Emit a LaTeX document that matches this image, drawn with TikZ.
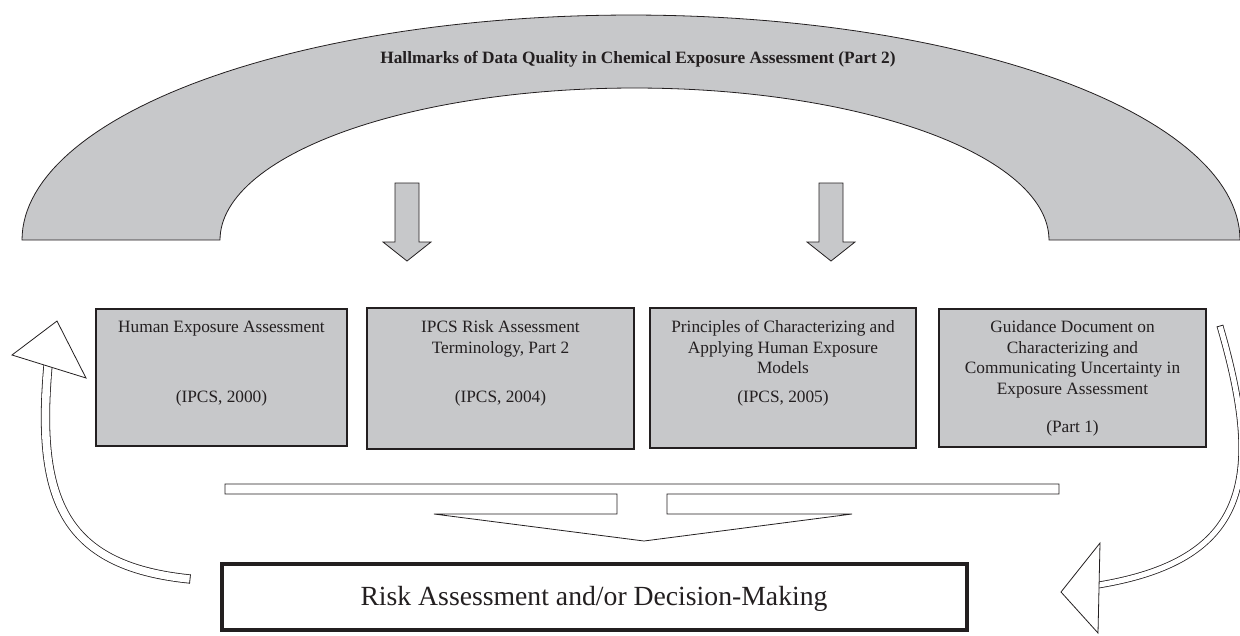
\documentclass[tikz,border=0pt]{standalone}
\usepackage{fontspec}
\setmainfont{Liberation Serif}
\usetikzlibrary{calc}
\definecolor{boxgray}{RGB}{199,200,202}
\definecolor{ink}{RGB}{35,31,32}
\begin{document}
\begin{tikzpicture}[x=1pt,y=-1pt,
  graybox/.style={draw=ink, line width=1.1pt, fill=boxgray, inner sep=0pt, outer sep=0pt},
  boxtxt/.style={anchor=base, inner sep=0pt, text=ink, font=\fontsize{17.3}{20.5}\selectfont},
  titletxt/.style={anchor=base, inner sep=0pt, text=ink, font=\fontsize{17.3}{21}\selectfont\bfseries},
  bigtxt/.style={anchor=base, inner sep=0pt, text=ink, font=\fontsize{27.7}{32}\selectfont},
  archshape/.style={draw=ink, line width=0.8pt, fill=boxgray},
  grayarrow/.style={draw=ink, line width=0.8pt, fill=boxgray, line join=miter},
  whitearrow/.style={draw=ink, line width=0.8pt, fill=white, line join=miter},
  bandarrow/.style={draw=ink, line width=0.8pt, double=white},
  capline/.style={draw=ink, line width=0.8pt}
]
\useasboundingbox (0,0) rectangle (1240,635);

% arch
\path[archshape] plot[domain=180:0,samples=120] ({631+609*cos(\x)},{240-225*sin(\x)})
  -- plot[domain=0:180,samples=120] ({634.5+414.5*cos(\x)},{240-152*sin(\x)}) -- cycle;
\node[titletxt] (title) at (638,63.5) {Hallmarks of Data Quality in Chemical Exposure Assessment (Part 2)};

% down arrows from arch
\foreach \ax in {407,831}{
  \path[grayarrow] (\ax-12,183) -- (\ax+12,183) -- (\ax+12,242) -- (\ax+24,242) -- (\ax,261)
     -- (\ax-24,242) -- (\ax-12,242) -- cycle;
}

% boxes
\node[graybox, minimum width=251pt, minimum height=137pt] (b1) at (221.5,377.5) {};
\node[graybox, minimum width=267pt, minimum height=141pt] (b2) at (500.5,378.5) {};
\node[graybox, minimum width=266pt, minimum height=140pt] (b3) at (783,378) {};
\node[graybox, minimum width=267pt, minimum height=138pt] (b4) at (1072.5,378) {};

\node[boxtxt] (b1a) at (221.5,332.5) {Human Exposure Assessment};
\node[boxtxt] (b1b) at (221.5,402) {(IPCS, 2000)};

\node[boxtxt] (b2a) at (500.5,332.5) {IPCS Risk Assessment};
\node[boxtxt] (b2b) at (500.5,353) {Terminology, Part 2};
\node[boxtxt] (b2c) at (500.5,402) {(IPCS, 2004)};

\node[boxtxt] (b3a) at (783,332.5) {Principles of Characterizing and};
\node[boxtxt] (b3b) at (783,353) {Applying Human Exposure};
\node[boxtxt] (b3c) at (783,373.5) {Models};
\node[boxtxt] (b3d) at (783,402) {(IPCS, 2005)};

\node[boxtxt] (b4a) at (1072.5,332.5) {Guidance Document on};
\node[boxtxt] (b4b) at (1072.5,353) {Characterizing and};
\node[boxtxt] (b4c) at (1072.5,373.5) {Communicating Uncertainty in};
\node[boxtxt] (b4d) at (1072.5,394) {Exposure Assessment};
\node[boxtxt] (b4e) at (1072.5,432.5) {(Part 1)};

% T-shaped merge arrow
\path[whitearrow] (225,484) -- (1059,484) -- (1059,494) -- (667,494) -- (667,514) -- (852,514)
  -- (644,541) -- (434,514) -- (617,514) -- (617,494) -- (225,494) -- cycle;

% bottom box
\node[draw=ink, line width=4pt, minimum width=745pt, minimum height=66pt, inner sep=0pt] (rad) at (594,596.7) {};
\node[bigtxt] (radt) at (594,605) {Risk Assessment and/or Decision-Making};

% left curved arrow (feedback to box 1)
\coordinate (ls) at (190,579);
\coordinate (lc1) at (60,566);
\coordinate (lc2) at (36,496);
\coordinate (le) at (48.3,362);
\draw[bandarrow, double distance=7.6pt] (ls) .. controls (lc1) and (lc2) .. (le);
\draw[capline] ($(ls)!4.6pt!90:(lc1)$) -- ($(ls)!4.6pt!-90:(lc1)$);
\coordinate (lh1) at (12,355);
\coordinate (lh2) at (57,321);
\coordinate (lh3) at (86,378);
\path[whitearrow] (lh1) -- (lh2) -- (lh3) -- cycle;

% right curved arrow (box 4 to bottom)
\coordinate (rs) at (1220,326);
\coordinate (rc1) at (1264.8,479.6);
\coordinate (rc2) at (1248.5,561);
\coordinate (re) at (1096,585.4);
\draw[bandarrow, double distance=5.2pt] (rs) .. controls (rc1) and (rc2) .. (re);
\draw[capline] ($(rs)!3.4pt!90:(rc1)$) -- ($(rs)!3.4pt!-90:(rc1)$);
\coordinate (rh1) at (1100,543);
\coordinate (rh2) at (1061,592);
\coordinate (rh3) at (1098,633);
\path[whitearrow] (rh1) -- (rh2) -- (rh3) -- cycle;
\end{tikzpicture}
\end{document}
